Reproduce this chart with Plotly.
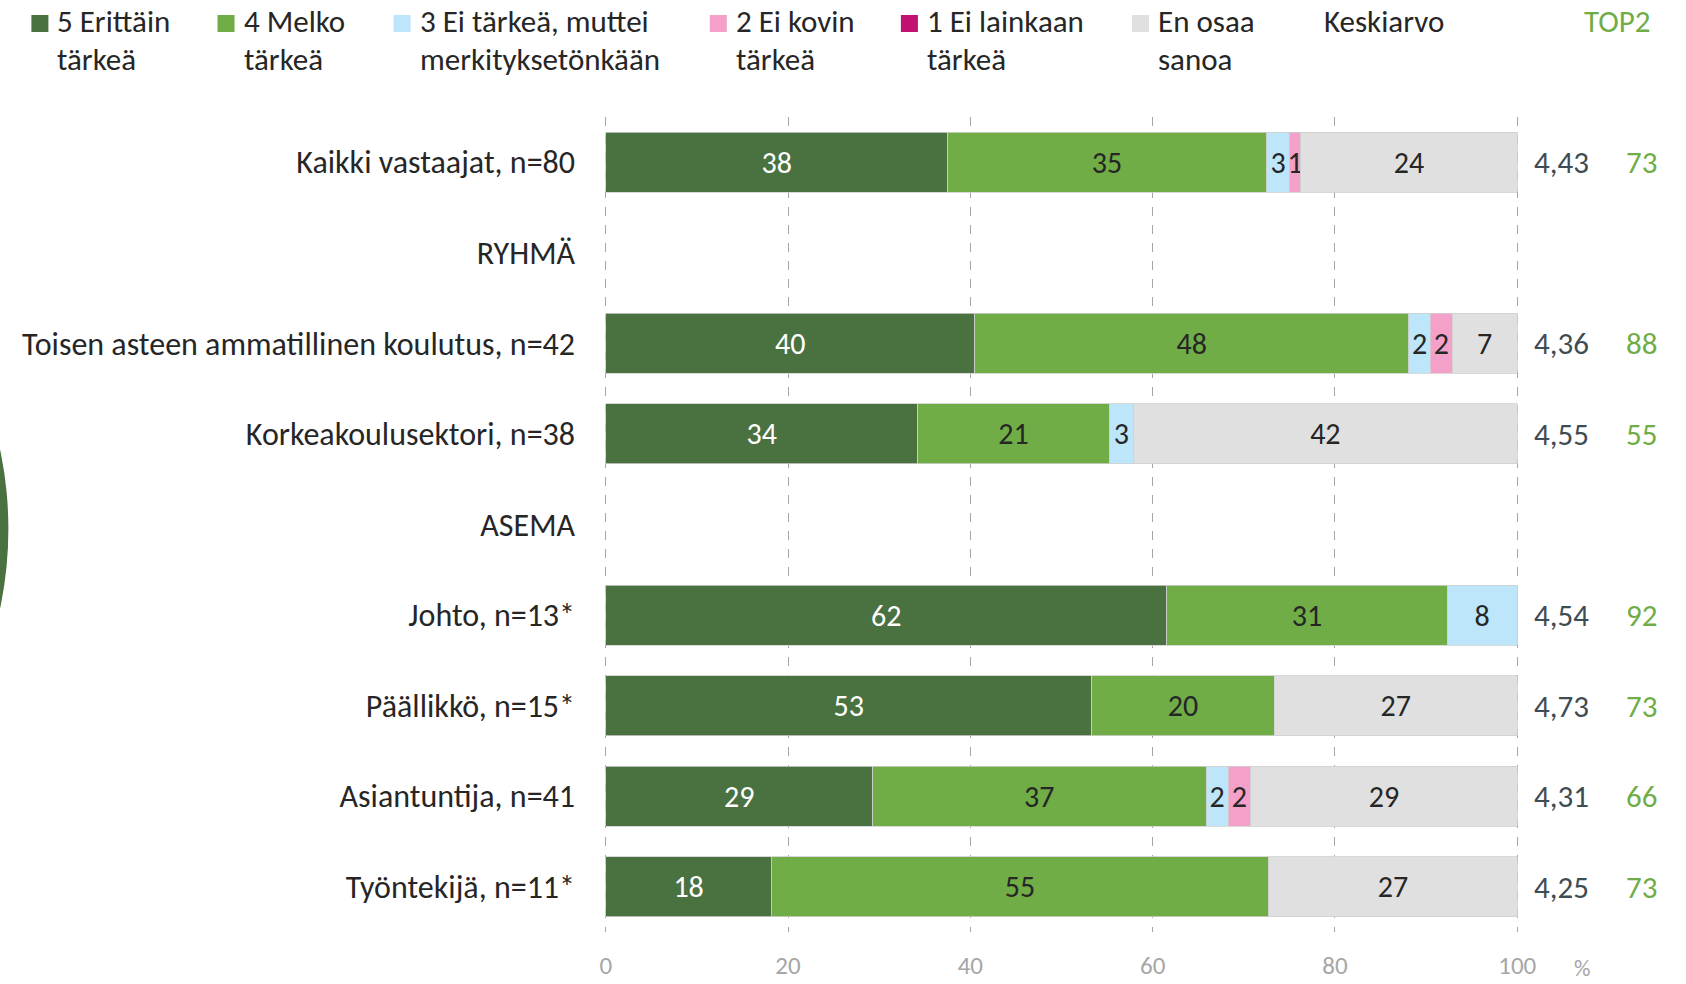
import plotly.graph_objects as go

# ---------------- data ----------------
categories = [
    "Kaikki vastaajat, n=80",
    "RYHMÄ",
    "Toisen asteen ammatillinen koulutus, n=42",
    "Korkeakoulusektori, n=38",
    "ASEMA",
    "Johto, n=13*",
    "Päällikkö, n=15*",
    "Asiantuntija, n=41",
    "Työntekijä, n=11*",
]

series_names = [
    "5 Erittäin<br>tärkeä",
    "4 Melko<br>tärkeä",
    "3 Ei tärkeä, muttei<br>merkityksetönkään",
    "2 Ei kovin<br>tärkeä",
    "1 Ei lainkaan<br>tärkeä",
    "En osaa<br>sanoa",
]

s5 = [37.50, None, 40.48, 34.21, None, 61.54, 53.33, 29.27, 18.18]
s4 = [35.00, None, 47.62, 21.05, None, 30.77, 20.00, 36.59, 54.55]
s3 = [2.50, None, 2.38, 2.63, None, 7.69, 0, 2.44, 0]
s2 = [1.25, None, 2.38, 0, None, 0, 0, 2.44, 0]
s1 = [0, None, 0, 0, None, 0, 0, 0, 0]
s_eos = [23.75, None, 7.14, 42.11, None, 0, 26.67, 29.27, 27.27]

keskiarvo = [4.43, None, 4.36, 4.55, None, 4.54, 4.73, 4.31, 4.25]
top2 = [73, None, 88, 55, None, 92, 73, 66, 73]

x_ticks = [0, 20, 40, 60, 80, 100]

# ---------------- style ----------------
series_values = [s5, s4, s3, s2, s1, s_eos]
colors = ["#4a7140", "#70ad47", "#bde6fa", "#f4a0c8", "#c2126f", "#e0e0e0"]
text_colors = ["#ffffff", "#262626", "#262626", "#262626", "#262626", "#262626"]
FONT = "Carlito, Lato, 'Open Sans', sans-serif"
DARK = "#262626"
GRAY = "#a6a6a6"
FS = 31

W, H = 1686, 984
X0PX, X100PX = 606, 1517          # pixel of value 0 and value 100
PAD = 0.3                          # axis range padding (units)
UNIT = (X100PX - X0PX) / 100.0
L = X0PX - PAD * UNIT
R = X100PX + PAD * UNIT
T, B = 117, 932


def px_x(px):
    return (px - L) / (R - L)


def px_y(py):
    return (B - py) / (B - T)


def label(v):
    if v is None or v == 0:
        return ""
    return str(int(v + 0.5))


fig = go.Figure()

for name, vals, col, tcol in zip(series_names, series_values, colors, text_colors):
    fig.add_trace(go.Bar(
        orientation="h",
        y=categories,
        x=vals,
        name=name.replace("<br>", " "),
        marker=dict(color=col, line=dict(color="#d0d0d0", width=0.8)),
        text=[label(v) for v in vals],
        textposition="inside",
        insidetextanchor="middle",
        textangle=0,
        textfont=dict(family=FONT, size=30, color=tcol),
        showlegend=False,
        hoverinfo="skip",
    ))

annotations = []
shapes = []

# right-hand columns
for cat, m, t in zip(categories, keskiarvo, top2):
    if m is not None:
        annotations.append(dict(
            x=px_x(1561), xref="paper", y=cat, yref="y",
            text=f"{m:.2f}".replace(".", ","), showarrow=False,
            xanchor="center", yanchor="middle",
            font=dict(family=FONT, size=FS, color="#3e4c54")))
    if t is not None:
        annotations.append(dict(
            x=px_x(1641), xref="paper", y=cat, yref="y",
            text=str(t), showarrow=False,
            xanchor="center", yanchor="middle",
            font=dict(family=FONT, size=FS, color="#70ad47")))

# legend (manual)
sq_x = [32, 218, 394, 710, 901, 1132]
for name, col, sx in zip(series_names, colors, sq_x):
    shapes.append(dict(
        type="rect", xref="paper", yref="paper",
        x0=px_x(sx), x1=px_x(sx + 17), y0=px_y(32), y1=px_y(15),
        fillcolor=col, line=dict(width=0)))
    for i, line in enumerate(name.split("<br>")):
        annotations.append(dict(
            x=px_x(sx + 24), xref="paper", y=px_y(21 + 38.5 * i), yref="paper",
            text=line, showarrow=False, xanchor="left", yanchor="middle",
            font=dict(family=FONT, size=FS, color=DARK)))

annotations.append(dict(
    x=px_x(1322), xref="paper", y=px_y(21), yref="paper",
    text="Keskiarvo", showarrow=False, xanchor="left", yanchor="middle",
    font=dict(family=FONT, size=FS, color=DARK)))
annotations.append(dict(
    x=px_x(1652), xref="paper", y=px_y(21), yref="paper",
    text="TOP2", showarrow=False, xanchor="right", yanchor="middle",
    font=dict(family=FONT, size=FS, color="#70ad47")))

# % unit label
annotations.append(dict(
    x=px_x(1582), xref="paper", y=px_y(968), yref="paper",
    text="%", showarrow=False, xanchor="center", yanchor="middle",
    font=dict(family=FONT, size=23, color=GRAY)))

# decorative circle on left edge
shapes.append(dict(
    type="circle", xref="paper", yref="paper", layer="below",
    x0=px_x(-375 - 384), x1=px_x(-375 + 384),
    y0=px_y(529 + 384), y1=px_y(529 - 384),
    fillcolor="#4a7140", line=dict(width=0)))

fig.update_layout(
    barmode="stack",
    bargap=0.338,
    width=W, height=H,
    margin=dict(l=L, r=W - R, t=T, b=H - B, pad=0),
    autosize=False,
    plot_bgcolor="white",
    paper_bgcolor="white",
    font=dict(family=FONT, size=FS, color=DARK),
    uniformtext=dict(mode="show", minsize=30),
    annotations=annotations,
    shapes=shapes,
)

fig.update_xaxes(
    automargin=False,
    range=[-PAD, 100 + PAD],
    tickvals=x_ticks,
    ticktext=[str(v) for v in x_ticks],
    showgrid=True, gridcolor=GRAY, gridwidth=1, griddash="dash",
    zeroline=False, showline=False,
    ticks="", ticklabelstandoff=16,
    tickfont=dict(family=FONT, size=25, color=GRAY),
)
fig.update_yaxes(
    automargin=False,
    type="category",
    categoryorder="array", categoryarray=categories,
    range=[8.5, -0.5],
    showgrid=False, zeroline=False, showline=False,
    ticks="", ticklabelstandoff=27,
    tickfont=dict(family=FONT, size=32, color=DARK),
)

fig.write_html(
    "out.html",
    config={"displayModeBar": False},
    post_script="document.body.style.margin='0';document.body.style.overflow='hidden';",
)
